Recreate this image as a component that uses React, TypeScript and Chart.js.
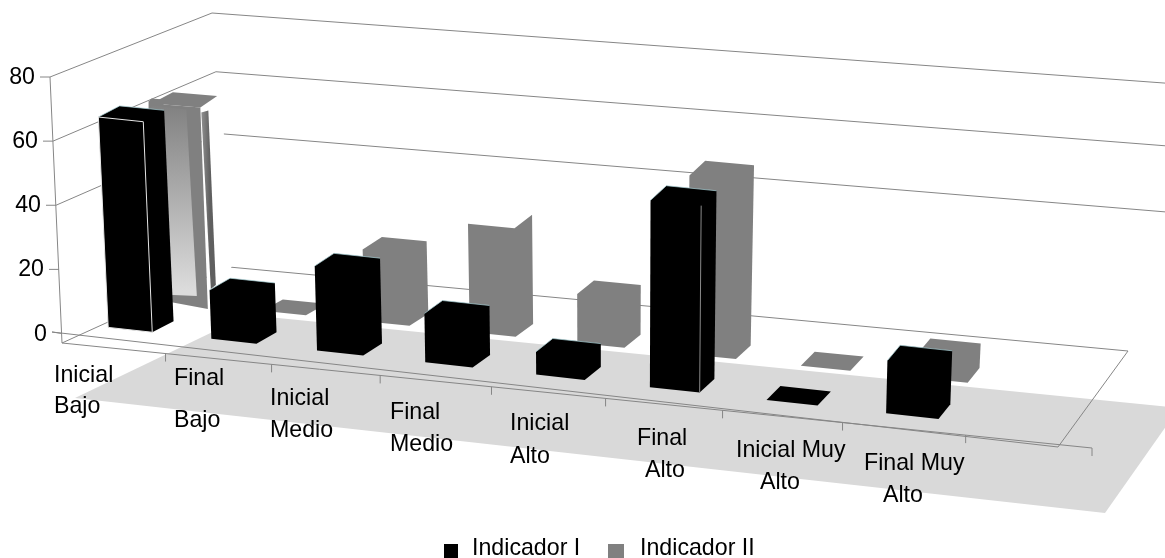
import React, { useEffect, useRef } from "react";
import { Chart, registerables } from "chart.js";

Chart.register(...registerables);

const categories = [
  "Inicial Bajo", "Final Bajo", "Inicial Medio", "Final Medio",
  "Inicial Alto", "Final Alto", "Inicial Muy Alto", "Final Muy Alto", "",
];
const indicadorI = [65.5, 15, 26, 15, 7, 57.5, 0, 16];
const indicadorII = [61, 0, 21.5, 32.5, 14.5, 54, 0, 7];
const seriesNames = ["Indicador I", "Indicador II"];
const yTicks = [0, 20, 40, 60, 80];
const wallGridValues = [40, 60, 80];

const FONT = '23.2px "Liberation Sans", Arial, sans-serif';
const GRID = "#868686";
const BLACK = "#000000";
const GREY = "#808080";
const FLOOR = "#d9d9d9";

// Box corners on screen: [u, d] at value 0 and at value max
const WALL0 = { fl: [62, 333.5], fr: [1058, 447], br: [1128, 351], bl: [229, 267] };
const WALL1 = { fl: [50, 77], fr: [1068, 187], br: [1150, 82], bl: [212, 13] };
const BAR0 = { fl: [60, 333.5], fr: [1090, 450], br: [1156, 347], bl: [208, 262] };
const BAR1 = { fl: [48, 77], fr: [1100, 190], br: [1178, 78], bl: [191, 8] };
const AX_A = 0.894;
const DEPTH = [[0.13, 0.28], [0.5, 0.65]];
const warpU = (u: number) => (u * AX_A) / (1 + (AX_A - 1) * u);

function project(q0: any, q1: any, u: number, d: number, v: number): [number, number] {
  const t = warpU(u);
  const vv = v + d * 0.1 * v * (1 - v);
  const q = (a: any) => [0, 1].map(
    (k) => (1 - d) * ((1 - t) * a.fl[k] + t * a.fr[k]) + d * ((1 - t) * a.bl[k] + t * a.br[k])
  );
  const a = q(q0), b = q(q1);
  return [a[0] + (b[0] - a[0]) * vv, a[1] + (b[1] - a[1]) * vv];
}
const P = (u: number, d: number, v: number) => project(WALL0, WALL1, u, d, v);
const PB = (u: number, d: number, v: number) => project(BAR0, BAR1, u, d, v);
const AXIS_START: [number, number] = [62, 343];
const AXIS_END: [number, number] = [1092, 448];
const axisAt = (u: number): [number, number] => {
  const t = warpU(u);
  return [AXIS_START[0] + (AXIS_END[0] - AXIS_START[0]) * t, AXIS_START[1] + (AXIS_END[1] - AXIS_START[1]) * t];
};

const FLOOR_SHADE = [[75, 398], [248, 315], [1179, 408], [1105, 513]];
const LABEL_POS = [
  [54, 382, 54, 413], [174, 385, 174, 427], [270, 405, 270, 437], [390, 419, 390, 451],
  [510, 430, 510, 463], [637, 445, 645, 477], [736, 457, 760, 489], [864, 470, 883, 502],
];

function poly(ctx: CanvasRenderingContext2D, pts: number[][], fill?: any, stroke?: string, w = 1) {
  ctx.beginPath();
  pts.forEach((p, i) => (i ? ctx.lineTo(p[0], p[1]) : ctx.moveTo(p[0], p[1])));
  if (fill) { ctx.closePath(); ctx.fillStyle = fill; ctx.fill(); }
  if (stroke) { ctx.strokeStyle = stroke; ctx.lineWidth = w; ctx.stroke(); }
}
const line = (ctx: CanvasRenderingContext2D, pts: number[][]) => poly(ctx, pts, undefined, GRID, 1);
const off = (p: number[], dx: number, dy: number) => [p[0] + dx, p[1] + dy];

const scene3d = {
  id: "scene3d",
  beforeDatasetDraw() { return false; },
  beforeDatasetsDraw(chart: any) {
    const ctx: CanvasRenderingContext2D = chart.ctx;
    const area = chart.chartArea;
    const xs = chart.scales.x, ys = chart.scales.y;
    const toU = (px: number) => (px - area.left) / (area.right - area.left);
    const toV = (val: number) => (area.bottom - ys.getPixelForValue(val)) / (area.bottom - area.top);
    ctx.save();
    poly(ctx, FLOOR_SHADE, FLOOR);

    // walls
    wallGridValues.forEach((val) => {
      const v = toV(val);
      line(ctx, [P(0, 0, v), P(0, 1, v), P(1.05, 1, v)]);
    });
    line(ctx, [P(0, 0, toV(80)), AXIS_START]);
    line(ctx, [AXIS_START, P(0, 1, 0), P(1, 1, 0), P(1, 0, 0), [P(0, 0, 0)[0] - 10, P(0, 0, 0)[1] - 1.5]]);
    // axis
    line(ctx, [AXIS_START, AXIS_END]);
    const step = xs.getPixelForValue(1) - xs.getPixelForValue(0);
    categories.forEach((_, i) => {
      const c = axisAt(toU(xs.getPixelForValue(i) + step / 2));
      line(ctx, [c, [c[0], c[1] + 8]]);
    });
    yTicks.forEach((val) => {
      const p = P(0, 0, toV(val));
      line(ctx, [p, [p[0] - 10, p[1] - (val === 0 ? 1.5 : 0)]]);
    });

    // bars: back series first
    [1, 0].forEach((ds) => {
      const meta = chart.getDatasetMeta(ds);
      const [d0, d1] = DEPTH[ds];
      const color = ds === 0 ? BLACK : GREY;
      meta.data.forEach((el: any, i: number) => {
        const { x, y, width } = el.getProps(["x", "y", "width"], true);
        if (y == null || Number.isNaN(y)) return;
        const ul = toU(x - width / 2), ur = toU(x + width / 2);
        const v = (area.bottom - y) / (area.bottom - area.top);
        const A = PB(ul, d0, v), B = PB(ur, d0, v), C = PB(ur, d0, 0), D = PB(ul, d0, 0);
        const E = PB(ur, d1, v), F = PB(ur, d1, 0), G = PB(ul, d1, v);
        if (ds === 1 && i === 0) {
          // first back bar: bevelled, gradient front, detached side strip
          const B2 = off(B, 5, 0), C2 = off(C, 3, 4), E2 = off(E, 1, 0);
          poly(ctx, [B2, off(E, 5, 0), off(F, 7, -30), C2], "#ffffff");
          poly(ctx, [off(A, -3, -2), off(A, 0, -5), off(A, 12, -4), off(A, 12, 14), off(A, -3, 14)], GREY);
          poly(ctx, [A, B2, E2, G], GREY);
          poly(ctx, [A, B2, C2, D], GREY);
          const g = ctx.createLinearGradient(0, A[1], 0, D[1]);
          g.addColorStop(0, "#808080");
          g.addColorStop(0.95, "#dcdcdc");
          poly(ctx, [off(A, 0, 2), off(B2, -14, 2), off(C2, -11, -13), off(D, 0, -6)], g);
          const sg = ctx.createLinearGradient(B2[0] + 1, 0, B2[0] + 10, 0);
          sg.addColorStop(0, "#8f8f8f");
          sg.addColorStop(1, "#5f5f5f");
          poly(ctx, [off(B2, 1, 5), off(B2, 8, 3), off(C2, 8, -24), off(C2, 3, -20)], sg);
          return;
        }
        if (v <= 0) {
          poly(ctx, [A, B, E, G], color);
          return;
        }
        if (ds === 1 && i === 3) poly(ctx, [A, B, E, F, C, D], color); // no visible top
        else poly(ctx, [D, A, G, E, F, C], color);
        if (ds === 0) {
          poly(ctx, [A, G, E], undefined, "rgba(170,210,215,0.7)", 1);
        }
        if (ds === 0 && i === 0) {
          poly(ctx, [A, B, C, D, A], undefined, "#e6e6e6", 1);
        }
        if (ds === 0 && i === 5) {
          poly(ctx, [B, C], undefined, "#8a8a8a", 1);
        }
      });
    });

    // text
    ctx.fillStyle = "#000";
    ctx.font = FONT;
    ctx.textBaseline = "alphabetic";
    ctx.textAlign = "right";
    yTicks.forEach((val) => {
      const p = P(0, 0, toV(val));
      ctx.fillText(String(val), p[0] - 15, p[1] + 7);
    });
    ctx.textAlign = "left";
    categories.forEach((c, i) => {
      if (!c) return;
      const k = c.lastIndexOf(" ");
      const pos = LABEL_POS[i];
      ctx.fillText(c.slice(0, k), pos[0], pos[1]);
      ctx.fillText(c.slice(k + 1), pos[2], pos[3]);
    });
    // legend
    ctx.fillStyle = BLACK;
    ctx.fillRect(444, 544, 14, 14);
    ctx.fillStyle = GREY;
    ctx.fillRect(608, 544, 16, 14);
    ctx.fillStyle = "#000";
    ctx.fillText(seriesNames[0], 472, 555);
    ctx.fillText(seriesNames[1], 640, 555);
    ctx.restore();
  },
};

export default function App() {
  const ref = useRef<HTMLCanvasElement>(null);
  useEffect(() => {
    const chart = new Chart(ref.current!, {
      type: "bar",
      data: {
        labels: categories,
        datasets: [
          { label: seriesNames[0], data: indicadorI, backgroundColor: BLACK },
          { label: seriesNames[1], data: indicadorII, backgroundColor: GREY },
        ],
      },
      options: {
        animation: false,
        responsive: false,
        events: [],
        grouped: false,
        categoryPercentage: 1,
        barPercentage: 0.43,
        layout: { padding: 0 },
        plugins: { legend: { display: false }, tooltip: { enabled: false } },
        scales: {
          x: { display: false, offset: true },
          y: { display: false, min: 0, max: 80 },
        },
      } as any,
      plugins: [scene3d],
    });
    return () => chart.destroy();
  }, []);
  return (
    <div style={{ position: "fixed", left: 0, top: 0, width: 1165, height: 558, background: "#fff", overflow: "hidden" }}>
      <canvas ref={ref} width={1165} height={558} style={{ display: "block" }} />
    </div>
  );
}
